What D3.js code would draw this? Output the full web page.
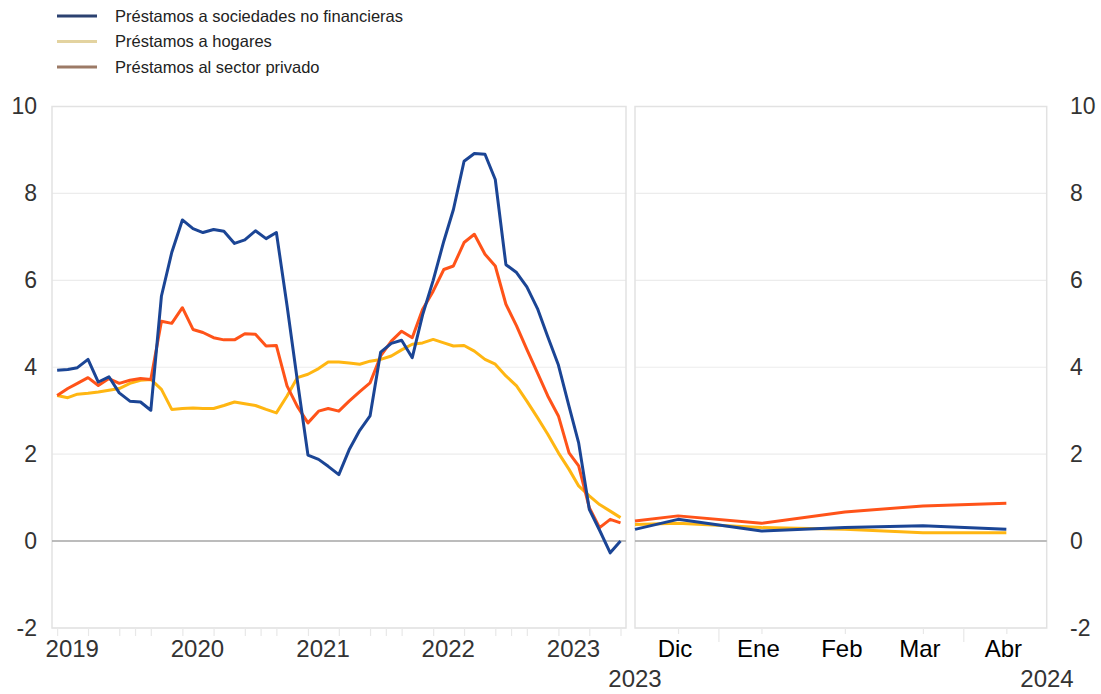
<!DOCTYPE html>
<html>
<head>
<meta charset="utf-8">
<script src="https://cdn.jsdelivr.net/npm/d3@7"></script>
<style>
  body { margin: 0; background: #fff; }
  text { font-family: "Liberation Sans", Arial, sans-serif; }
</style>
</head>
<body>
<div id="chart"></div>
<script>
// series names (legend)
var seriesNames = ["Préstamos a sociedades no financieras", "Préstamos a hogares", "Préstamos al sector privado"];

// left panel: monthly, Jan 2019 - Jul 2023
var leftMonths = d3.utcMonth.range(new Date(Date.UTC(2019, 0, 1)), new Date(Date.UTC(2023, 7, 1)));
var sociedadesLeft = [3.93, 3.95, 3.99, 4.18, 3.66, 3.78, 3.41, 3.22, 3.2, 3.01,
    5.64, 6.64, 7.39, 7.19, 7.1, 7.17, 7.13, 6.85, 6.93, 7.14,
    6.96, 7.1, 5.42, 3.7, 1.98, 1.88, 1.72, 1.53, 2.1, 2.55,
    2.88, 4.35, 4.55, 4.62, 4.22, 5.2, 6.0, 6.9, 7.63, 8.74,
    8.92, 8.9, 8.32, 6.36, 6.18, 5.85, 5.35, 4.7, 4.05, 3.1,
    2.26, 0.73, 0.25, -0.27, 0.0];
var hogaresLeft = [3.35, 3.3, 3.38, 3.4, 3.43, 3.47, 3.51, 3.63, 3.7, 3.72,
    3.49, 3.03, 3.05, 3.06, 3.05, 3.05, 3.12, 3.2, 3.16, 3.12,
    3.03, 2.95, 3.34, 3.76, 3.84, 3.97, 4.12, 4.12, 4.1, 4.07,
    4.14, 4.18, 4.26, 4.4, 4.53, 4.56, 4.64, 4.56, 4.49, 4.5,
    4.37, 4.18, 4.07, 3.8, 3.57, 3.22, 2.84, 2.46, 2.03, 1.65,
    1.27, 1.04, 0.84, 0.69, 0.54];
var privadoLeft = [3.35, 3.51, 3.63, 3.76, 3.58, 3.74, 3.63, 3.7, 3.74, 3.72,
    5.06, 5.01, 5.37, 4.87, 4.8, 4.68, 4.63, 4.63, 4.77, 4.76,
    4.49, 4.5, 3.57, 3.1, 2.72, 2.99, 3.05, 2.99, 3.22, 3.44,
    3.64, 4.26, 4.6, 4.83, 4.68, 5.33, 5.75, 6.25, 6.33, 6.87,
    7.06, 6.6, 6.33, 5.45, 4.95, 4.41, 3.87, 3.34, 2.88, 2.03,
    1.73, 0.77, 0.31, 0.5, 0.42];
var yearLabels = ["2019", "2020", "2021", "2022", "2023"];

// right panel: Nov 2023 - Apr 2024
var rightDates = ["2023-11-15", "2023-12-01", "2024-01-01", "2024-02-01", "2024-03-01", "2024-04-01"];
var sociedadesRight = [0.27, 0.5, 0.23, 0.31, 0.35, 0.27];
var hogaresRight = [0.38, 0.41, 0.31, 0.27, 0.19, 0.19];
var privadoRight = [0.46, 0.58, 0.41, 0.67, 0.81, 0.87];
var monthLabels = ["Dic", "Ene", "Feb", "Mar", "Abr"];

var yTicks = [-2, 0, 2, 4, 6, 8, 10];

var width = 1101, height = 694;
var colors = ["#1b4595", "#ffb612", "#ff5319"];
var legendColors = ["#2b4170", "#e3d3a0", "#9c7a66"];

var svg = d3.select("#chart").append("svg")
    .attr("width", width)
    .attr("height", height)
    .style("background", "#fff");

var plotTop = 106.5, plotBottom = 628;
var y = d3.scaleLinear().domain([-2, 10]).range([plotBottom, plotTop]);

var xLeft = d3.scaleUtc()
    .domain([new Date(Date.UTC(2018, 11, 17)), new Date(Date.UTC(2023, 6, 17))])
    .range([52, 626]);
var xRight = d3.scaleUtc()
    .domain([new Date(Date.UTC(2023, 10, 15)), new Date(Date.UTC(2024, 3, 16))])
    .range([635, 1046.7]);

// grid + frame for each panel
[xLeft, xRight].forEach(function (x) {
    var r = x.range();
    svg.append("g").selectAll("line")
        .data(yTicks.filter(function (d) { return d !== 0; }))
        .enter().append("line")
        .attr("x1", r[0]).attr("x2", r[1])
        .attr("y1", function (d) { return y(d); })
        .attr("y2", function (d) { return y(d); })
        .attr("stroke", "#ececec")
        .attr("stroke-width", 1.2);
    svg.append("rect")
        .attr("x", r[0]).attr("y", plotTop)
        .attr("width", r[1] - r[0]).attr("height", plotBottom - plotTop)
        .attr("fill", "none")
        .attr("stroke", "#e2e2e2")
        .attr("stroke-width", 1.5);
    svg.append("line")
        .attr("x1", r[0]).attr("x2", r[1])
        .attr("y1", y(0)).attr("y2", y(0))
        .attr("stroke", "#a6a6a6")
        .attr("stroke-width", 1.5);
});

// y axes (left and right), plain hyphen for negatives
var fmt = function (d) { return String(d); };
var yAxisL = svg.append("g")
    .attr("transform", "translate(37,0)")
    .call(d3.axisLeft(y).tickValues(yTicks).tickFormat(fmt).tickSize(0).tickPadding(0));
var yAxisR = svg.append("g")
    .attr("transform", "translate(1070,0)")
    .call(d3.axisRight(y).tickValues(yTicks).tickFormat(fmt).tickSize(0).tickPadding(0));
[yAxisL, yAxisR].forEach(function (g) {
    g.select(".domain").remove();
    g.selectAll("text")
        .attr("font-size", 23)
        .attr("font-family", "Liberation Sans, Arial, sans-serif")
        .attr("fill", "#333");
});

// x axis ticks, left panel (quarters)
var leftTicks = [];
yearLabels.forEach(function (yr) {
    var n = +yr;
    leftTicks.push(new Date(Date.UTC(n, 0, 1)), new Date(Date.UTC(n, 3, 1)), new Date(Date.UTC(n, 6, 1)));
    if (n < 2023) leftTicks.push(new Date(Date.UTC(n, 7, 16)), new Date(Date.UTC(n, 9, 1)));
});
var xAxisL = svg.append("g")
    .attr("transform", "translate(0," + plotBottom + ")")
    .call(d3.axisBottom(xLeft).tickValues(leftTicks).tickSize(8).tickFormat(""));
xAxisL.select(".domain").remove();
xAxisL.selectAll("line").attr("stroke", "#e8e8e8").attr("stroke-width", 1.2);

svg.append("g").selectAll("text")
    .data(yearLabels)
    .enter().append("text")
    .attr("x", function (d) { return xLeft(new Date(Date.UTC(+d, 1, 14))); })
    .attr("y", 656.5)
    .attr("text-anchor", "middle")
    .attr("font-size", 24)
    .attr("fill", "#333")
    .text(function (d) { return d; });

// x axis, right panel
var monthDates = rightDates.slice(1).map(function (d) { return new Date(d + "T00:00:00Z"); });
var rightTicks = monthDates.concat([new Date(Date.UTC(2023, 11, 16)), new Date(Date.UTC(2024, 2, 16))]);
var xAxisR = svg.append("g")
    .attr("transform", "translate(0," + plotBottom + ")")
    .call(d3.axisBottom(xRight).tickValues(rightTicks).tickSize(6).tickFormat(""));
xAxisR.select(".domain").remove();
xAxisR.selectAll("line").attr("stroke", "#e8e8e8").attr("stroke-width", 1.2);
xAxisR.selectAll(".tick").filter(function (d) { return d.getUTCDate() === 16; })
    .select("line").attr("y2", 14);

svg.append("g").selectAll("text")
    .data(monthLabels)
    .enter().append("text")
    .attr("x", function (d, i) { return xRight(monthDates[i]) - 3; })
    .attr("y", 656.5)
    .attr("text-anchor", "middle")
    .attr("font-size", 24)
    .attr("fill", "#000")
    .text(function (d) { return d; });

svg.append("text")
    .attr("x", 635).attr("y", 686.5)
    .attr("text-anchor", "middle")
    .attr("font-size", 24).attr("fill", "#333")
    .text("2023");
svg.append("text")
    .attr("x", 1047).attr("y", 686.5)
    .attr("text-anchor", "middle")
    .attr("font-size", 24).attr("fill", "#333")
    .text("2024");

// lines
function drawLines(x, dates, series) {
    var line = d3.line()
        .x(function (d) { return x(d[0]); })
        .y(function (d) { return y(d[1]); });
    // draw order: hogares, privado, sociedades on top
    [1, 2, 0].forEach(function (k) {
        var pts = dates.map(function (dt, i) { return [dt, series[k][i]]; });
        svg.append("path")
            .datum(pts)
            .attr("d", line)
            .attr("fill", "none")
            .attr("stroke", colors[k])
            .attr("stroke-width", 3)
            .attr("stroke-linejoin", "round");
    });
}
drawLines(xLeft, leftMonths, [sociedadesLeft, hogaresLeft, privadoLeft]);
drawLines(xRight, rightDates.map(function (d) { return new Date(d + "T00:00:00Z"); }),
    [sociedadesRight, hogaresRight, privadoRight]);

// legend
var legend = svg.append("g").selectAll("g")
    .data(seriesNames)
    .enter().append("g")
    .attr("transform", function (d, i) { return "translate(0," + [16, 41.5, 67][i] + ")"; });
legend.append("line")
    .attr("x1", 57).attr("x2", 97)
    .attr("stroke", function (d, i) { return legendColors[i]; })
    .attr("stroke-width", 3);
legend.append("text")
    .attr("x", 115)
    .attr("dy", "0.35em")
    .attr("font-size", 16.5)
    .attr("fill", "#222")
    .text(function (d) { return d; });
</script>
</body>
</html>
